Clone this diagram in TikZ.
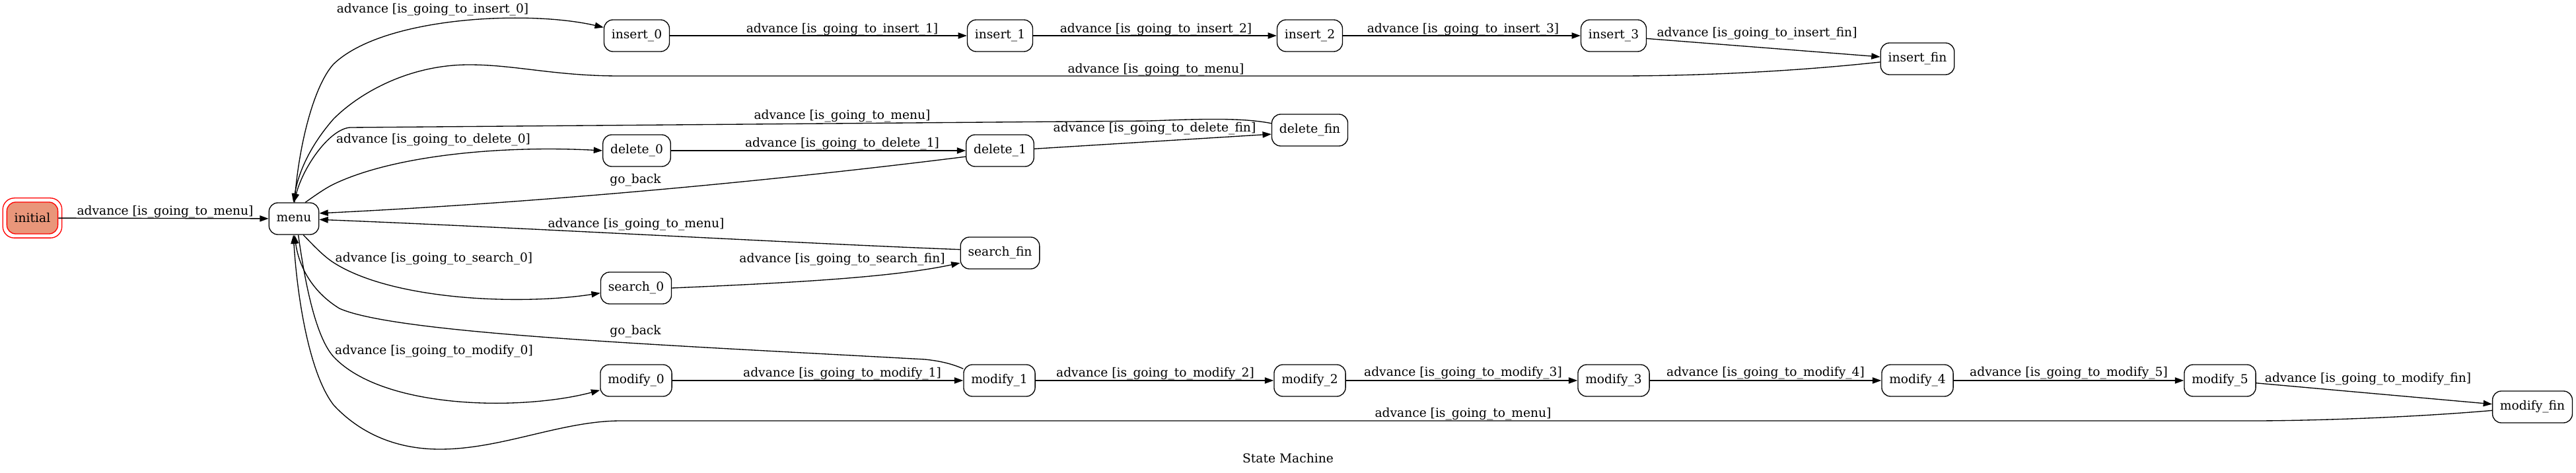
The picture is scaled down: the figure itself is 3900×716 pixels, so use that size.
\documentclass[tikz,border=0pt]{standalone}
\usepackage{fontspec}
\setmainfont{DejaVu Serif}
\usetikzlibrary{arrows.meta,calc}
\definecolor{dsalmon}{RGB}{233,150,122}
\begin{document}
\begin{tikzpicture}[x=0.75pt,y=-0.75pt,
  st/.style={draw, line width=1pt, rounded corners=10pt, minimum height=36pt, inner xsep=8.5pt, inner ysep=0pt, font=\fontsize{14}{17}\selectfont},
  lbl/.style={inner sep=0pt, font=\fontsize{14}{17}\selectfont},
  tr/.style={draw, line width=1pt, -{Triangle[length=10pt,width=7pt]}},
]
\useasboundingbox (0,0) rectangle (3900,716);

% nodes
\node[st, fill=dsalmon, draw=red] (initial) at (49,330) {initial};
\draw[red, line width=1pt, rounded corners=13pt] ($(initial.south west)+(-5.5,5.5)$) rectangle ($(initial.north east)+(5.5,-5.5)$);
\node[st] (menu) at (445,331) {menu};
\node[st] (insert_0) at (964,54) {insert\_0};
\node[st] (insert_1) at (1514,54) {insert\_1};
\node[st] (insert_2) at (1983,54) {insert\_2};
\node[st] (insert_3) at (2443,54) {insert\_3};
\node[st] (insert_fin) at (2903,89) {insert\_fin};
\node[st] (delete_0) at (964,228) {delete\_0};
\node[st] (delete_1) at (1514,228) {delete\_1};
\node[st] (delete_fin) at (1983,197) {delete\_fin};
\node[st] (search_0) at (963,436) {search\_0};
\node[st] (search_fin) at (1514,383) {search\_fin};
\node[st] (modify_0) at (963,576) {modify\_0};
\node[st] (modify_1) at (1513,576) {modify\_1};
\node[st] (modify_2) at (1983,576) {modify\_2};
\node[st] (modify_3) at (2443,576) {modify\_3};
\node[st] (modify_4) at (2903,576) {modify\_4};
\node[st] (modify_5) at (3361,576) {modify\_5};
\node[st] (modify_fin) at (3834,616) {modify\_fin};

% labels
\node[lbl] (l_init) at (250,321) {advance [is\_going\_to\_menu]};
\node[lbl] (l_i0) at (655,15) {advance [is\_going\_to\_insert\_0]};
\node[lbl] (l_i1) at (1275,45) {advance [is\_going\_to\_insert\_1]};
\node[lbl] (l_i2) at (1750,45) {advance [is\_going\_to\_insert\_2]};
\node[lbl] (l_i3) at (2215,45) {advance [is\_going\_to\_insert\_3]};
\node[lbl] (l_ifin) at (2660,51) {advance [is\_going\_to\_insert\_fin]};
\node[lbl] (l_imenu) at (1750,106) {advance [is\_going\_to\_menu]};
\node[lbl] (l_dmenu) at (1275,176) {advance [is\_going\_to\_menu]};
\node[lbl] (l_d0) at (656,212) {advance [is\_going\_to\_delete\_0]};
\node[lbl] (l_d1) at (1275,218) {advance [is\_going\_to\_delete\_1]};
\node[lbl] (l_dfin) at (1748,195) {advance [is\_going\_to\_delete\_fin]};
\node[lbl] (l_dback) at (962,273) {go\_back};
\node[lbl] (l_smenu) at (963,340) {advance [is\_going\_to\_menu]};
\node[lbl] (l_s0) at (657,392) {advance [is\_going\_to\_search\_0]};
\node[lbl] (l_sfin) at (1275,393) {advance [is\_going\_to\_search\_fin]};
\node[lbl] (l_mback) at (962,502) {go\_back};
\node[lbl] (l_m0) at (657,532) {advance [is\_going\_to\_modify\_0]};
\node[lbl] (l_m1) at (1275,566) {advance [is\_going\_to\_modify\_1]};
\node[lbl] (l_m2) at (1749,566) {advance [is\_going\_to\_modify\_2]};
\node[lbl] (l_m3) at (2215,565) {advance [is\_going\_to\_modify\_3]};
\node[lbl] (l_m4) at (2673,565) {advance [is\_going\_to\_modify\_4]};
\node[lbl] (l_m5) at (3132,565) {advance [is\_going\_to\_modify\_5]};
\node[lbl] (l_mfin) at (3585,574) {advance [is\_going\_to\_modify\_fin]};
\node[lbl] (l_mmenu) at (2215,627) {advance [is\_going\_to\_menu]};
\node[lbl] (title) at (1950,694) {State Machine};

% edges
\draw[tr] (initial) -- (menu);

\draw[tr] (menu.88) .. controls (452,220) and (475,130) .. (505,97)
  .. controls (580,25) and (800,15) .. (insert_0.166);
\draw[tr] (insert_0) -- (insert_1);
\draw[tr] (insert_1) -- (insert_2);
\draw[tr] (insert_2) -- (insert_3);
\draw[tr] (insert_3.-5) -- (insert_fin.177);
\draw[tr] (insert_fin.185) .. controls (2700,110) and (2550,115) .. (2450,115)
  -- (938,115) .. controls (840,115) and (780,98) .. (710,98)
  .. controls (620,98) and (545,140) .. (505,180)
  .. controls (470,220) and (452,260) .. (menu.92);

\draw[tr] (menu.55) .. controls (488,288) and (498,282) .. (509,277)
  .. controls (600,235) and (760,220) .. (delete_0.west);
\draw[tr] (delete_0) -- (delete_1);
\draw[tr] (delete_1.3) -- (delete_fin.186);
\draw[tr] (delete_fin.170) .. controls (1880,178) and (1820,180) .. (1740,183)
  -- (530,193) .. controls (500,195) and (460,250) .. (menu.90);
\draw[tr] (delete_1.190) .. controls (1200,270) and (850,305) .. (menu.12);

\draw[tr] (menu.-60) .. controls (478,375) and (492,390) .. (509,400)
  .. controls (600,455) and (790,462) .. (search_0.188);
\draw[tr] (search_0.east) .. controls (1200,428) and (1350,420) .. (search_fin.194);
\draw[tr] (search_fin.175) .. controls (1200,368) and (800,345) .. (menu.-2);

\draw[tr] (menu.-75) .. controls (462,430) and (478,510) .. (505,540)
  .. controls (580,620) and (790,622) .. (modify_0.195);
\draw[tr] (modify_0) -- (modify_1);
\draw[tr] (modify_1) -- (modify_2);
\draw[tr] (modify_2) -- (modify_3);
\draw[tr] (modify_3) -- (modify_4);
\draw[tr] (modify_4) -- (modify_5);
\draw[tr] (modify_5.-4) -- (modify_fin.176);
\draw[tr] (modify_1.162) .. controls (1440,550) and (1420,546) .. (1400,544)
  .. controls (1000,522) and (600,505) .. (514,467)
  .. controls (470,440) and (452,400) .. (menu.-88);
\draw[tr] (modify_fin.185) .. controls (3650,632) and (3500,637) .. (3410,637)
  -- (940,637) .. controls (850,637) and (760,680) .. (666,680)
  .. controls (580,680) and (530,640) .. (505,613)
  .. controls (468,565) and (450,450) .. (menu.-92);
\end{tikzpicture}
\end{document}
